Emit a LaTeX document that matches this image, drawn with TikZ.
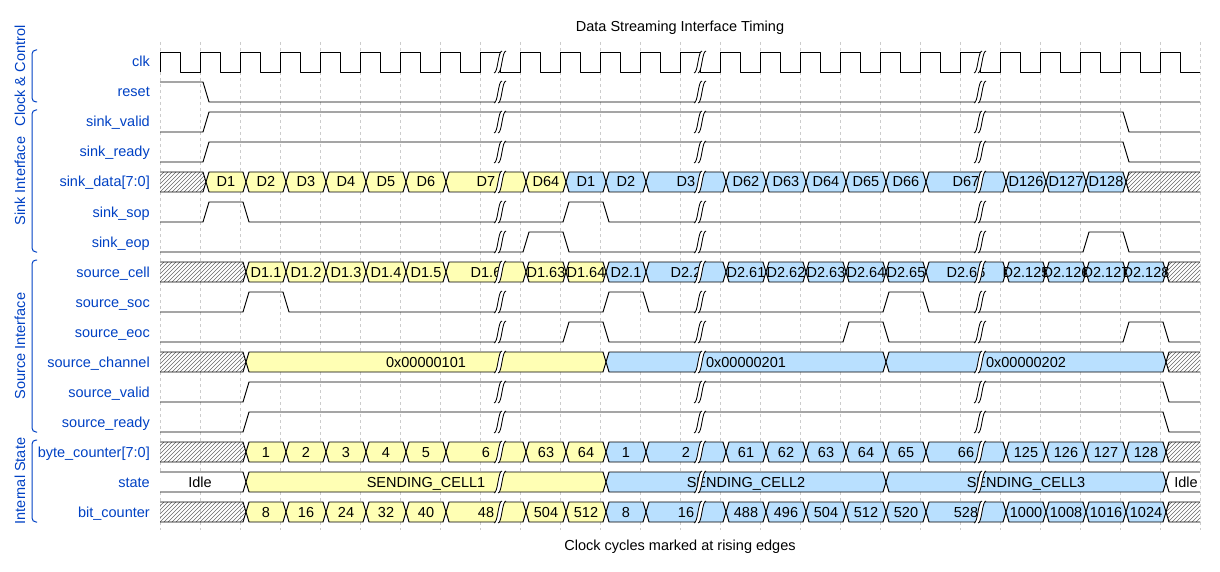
\documentclass[tikz,border=0pt]{standalone}
\usepackage{fontspec}
\setmainfont{Liberation Sans}
\usetikzlibrary{math}
\definecolor{laneblue}{RGB}{0,65,196}
\definecolor{cellyellow}{RGB}{255,255,180}
\definecolor{cellblue}{RGB}{185,224,255}
\definecolor{gridgray}{RGB}{204,204,204}

\tikzset{
 sigline/.style={line width=0.95pt, black, line join=round},
 hatchline/.style={line width=0.5pt, black!60},
 gapline/.style={line width=0.85pt, black},
 gridline/.style={line width=0.8pt, gridgray, dash pattern=on 3pt off 3pt},
 grpline/.style={line width=1pt, laneblue, rounded corners=4pt},
 wtext/.style={font=\fontsize{14.5}{17}\selectfont, inner sep=0pt},
 lane/.style={wtext, text=laneblue, anchor=base east},
 bustext/.style={wtext, anchor=base},
 grp/.style={wtext, text=laneblue, rotate=90, anchor=center},
}

%digital signal: row, start level, edges, end level
\newcommand{\sigwave}[4]{%
 \draw[sigline] (160,{#1+10-20*#2})
 \foreach \e [count=\i] in {#3}{ -- ({\e+3},{#1+10-20*mod(#2+\i-1,2)}) -- ({\e+9},{#1+10-20*mod(#2+\i,2)}) }
 -- (1200,{#1+10-20*#4});}

%bus value: row, from, to, colour, text
\newcommand{\busbox}[5]{%
 \filldraw[sigline, fill=#4] ({#2+6},#1) -- ({#2+9},{#1-10}) -- ({#3+3},{#1-10}) -- ({#3+6},#1) -- ({#3+3},{#1+10}) -- ({#2+9},{#1+10}) -- cycle;
 \node[bustext] (seg#1x#2) at ({(#2+#3)/2+6},{#1+5}) {#5};}
\newcommand{\busfirst}[4]{% row, to, colour, text
 \filldraw[sigline, fill=#3] (160,{#1-10}) -- ({#2+3},{#1-10}) -- ({#2+6},#1) -- ({#2+3},{#1+10}) -- (160,{#1+10});
 \node[bustext] (seg#1first) at ({(160+#2)/2},{#1+5}) {#4};}
\newcommand{\buslast}[4]{% row, from, colour, text
 \filldraw[sigline, fill=#3] (1200,{#1-10}) -- ({#2+9},{#1-10}) -- ({#2+6},#1) -- ({#2+9},{#1+10}) -- (1200,{#1+10});
 \node[bustext] (seg#1last) at ({(#2+1200)/2+6},{#1+5}) {#4};}

%unknown value, hatched
\newcommand{\hatchfirst}[2]{% row, to
 \begin{scope}
  \clip (160,{#1-10}) -- ({#2+3},{#1-10}) -- ({#2+6},#1) -- ({#2+3},{#1+10}) -- (160,{#1+10}) -- cycle;
  \foreach \k in {0,...,30} \draw[hatchline] ({140+4*\k},{#1+10}) -- ++(20,-20);
 \end{scope}
 \draw[sigline] (160,{#1-10}) -- ({#2+3},{#1-10}) -- ({#2+6},#1) -- ({#2+3},{#1+10}) -- (160,{#1+10});}
\newcommand{\hatchlast}[2]{% row, from
 \begin{scope}
  \clip (1200,{#1-10}) -- ({#2+9},{#1-10}) -- ({#2+6},#1) -- ({#2+9},{#1+10}) -- (1200,{#1+10}) -- cycle;
  \foreach \k in {0,...,30} \draw[hatchline] ({#2-20+4*\k},{#1+10}) -- ++(20,-20);
 \end{scope}
 \draw[sigline] (1200,{#1-10}) -- ({#2+9},{#1-10}) -- ({#2+6},#1) -- ({#2+9},{#1+10}) -- (1200,{#1+10});}

%time break
\newcommand{\gapmark}[2]{% x, row
 \begin{scope}[shift={({#1-5},{#2-9})}]
  \fill[white] (7,-2) .. controls (5,-2) and (4,3.5) .. (3,9) .. controls (2,14.5) and (1,20) .. (-1,20) -- (3,20) .. controls (5,20) and (6,14.5) .. (7,9) .. controls (8,3.5) and (9,-2) .. (11,-2) -- cycle;
  \draw[gapline] (7,-2) .. controls (5,-2) and (4,3.5) .. (3,9) .. controls (2,14.5) and (1,20) .. (-1,20);
  \draw[gapline] (11,-2) .. controls (9,-2) and (8,3.5) .. (7,9) .. controls (6,14.5) and (5,20) .. (3,20);
 \end{scope}}

\begin{document}
\begin{tikzpicture}[x=1pt,y=-1pt]
\useasboundingbox (0,0) rectangle (1220,572);
\tikzmath{
\xa=160;%first rising edge
\per=40;%clock period
}

%grid
\foreach \k in {0,...,26}
 \draw[gridline] ({\xa+\k*\per},42) -- ({\xa+\k*\per},530);

%clock & control
\draw[sigline] (\xa,72) \foreach \k in {0,...,25}{ -- ({\xa+\k*\per},52) -- ({\xa+\k*\per+\per/2},52) -- ({\xa+\k*\per+\per/2},72) -- ({\xa+(\k+1)*\per},72) };
\sigwave{92}{1}{200}{0}

%sink interface
\sigwave{122}{0}{200,1120}{0}
\sigwave{152}{0}{200,1120}{0}
\hatchfirst{182}{200}
\foreach \a/\b/\t in {200/240/D1, 240/280/D2, 280/320/D3, 320/360/D4, 360/400/D5, 400/440/D6, 440/520/D7, 520/560/D64}
 \busbox{182}{\a}{\b}{cellyellow}{\t};
\foreach \a/\b/\t in {560/600/D1, 600/640/D2, 640/720/D3, 720/760/D62, 760/800/D63, 800/840/D64, 840/880/D65, 880/920/D66, 920/1000/D67, 1000/1040/D126, 1040/1080/D127, 1080/1120/D128}
 \busbox{182}{\a}{\b}{cellblue}{\t};
\hatchlast{182}{1120}
\sigwave{212}{0}{200,240,560,600}{0}
\sigwave{242}{0}{520,560,1080,1120}{0}

%source interface
\hatchfirst{272}{240}
\foreach \a/\b/\t in {240/280/D1.1, 280/320/D1.2, 320/360/D1.3, 360/400/D1.4, 400/440/D1.5, 440/520/D1.6, 520/560/D1.63, 560/600/D1.64}
 \busbox{272}{\a}{\b}{cellyellow}{\t};
\foreach \a/\b/\t in {600/640/D2.1, 640/720/D2.2, 720/760/D2.61, 760/800/D2.62, 800/840/D2.63, 840/880/D2.64, 880/920/D2.65, 920/1000/D2.66, 1000/1040/D2.125, 1040/1080/D2.126, 1080/1120/D2.127, 1120/1160/D2.128}
 \busbox{272}{\a}{\b}{cellblue}{\t};
\hatchlast{272}{1160}
\sigwave{302}{0}{240,280,600,640,880,920}{0}
\sigwave{332}{0}{560,600,840,880,1120,1160}{0}
\hatchfirst{362}{240}
\busbox{362}{240}{600}{cellyellow}{0x00000101}
\busbox{362}{600}{880}{cellblue}{0x00000201}
\busbox{362}{880}{1160}{cellblue}{0x00000202}
\hatchlast{362}{1160}
\sigwave{392}{0}{240,1160}{0}
\sigwave{422}{0}{240,1160}{0}

%internal state
\hatchfirst{452}{240}
\foreach \a/\b/\t in {240/280/1, 280/320/2, 320/360/3, 360/400/4, 400/440/5, 440/520/6, 520/560/63, 560/600/64}
 \busbox{452}{\a}{\b}{cellyellow}{\t};
\foreach \a/\b/\t in {600/640/1, 640/720/2, 720/760/61, 760/800/62, 800/840/63, 840/880/64, 880/920/65, 920/1000/66, 1000/1040/125, 1040/1080/126, 1080/1120/127, 1120/1160/128}
 \busbox{452}{\a}{\b}{cellblue}{\t};
\hatchlast{452}{1160}
\busfirst{482}{240}{white}{Idle}
\busbox{482}{240}{600}{cellyellow}{SENDING\_CELL1}
\busbox{482}{600}{880}{cellblue}{SENDING\_CELL2}
\busbox{482}{880}{1160}{cellblue}{SENDING\_CELL3}
\buslast{482}{1160}{white}{Idle}
\hatchfirst{512}{240}
\foreach \a/\b/\t in {240/280/8, 280/320/16, 320/360/24, 360/400/32, 400/440/40, 440/520/48, 520/560/504, 560/600/512}
 \busbox{512}{\a}{\b}{cellyellow}{\t};
\foreach \a/\b/\t in {600/640/8, 640/720/16, 720/760/488, 760/800/496, 800/840/504, 840/880/512, 880/920/520, 920/1000/528, 1000/1040/1000, 1040/1080/1008, 1080/1120/1016, 1120/1160/1024}
 \busbox{512}{\a}{\b}{cellblue}{\t};
\hatchlast{512}{1160}

%breaks
\foreach \r in {62,92,...,512}
 \foreach \g in {500,700,980}
  \gapmark{\g}{\r};

%lane names
\foreach \r/\s in {62/clk, 92/reset, 122/sink\_valid, 152/sink\_ready, 182/sink\_data[7:0], 212/sink\_sop, 242/sink\_eop, 272/source\_cell, 302/source\_soc, 332/source\_eoc, 362/source\_channel, 392/source\_valid, 422/source\_ready, 452/byte\_counter[7:0], 482/state, 512/bit\_counter}
 \node[lane] (lane\r) at (150,{\r+5}) {\s};

%groups
\draw[grpline] (37,50) -- (32,50) -- (32,102) -- (37,102);
\node[grp] (gclock) at (20,76) {Clock \& Control};
\draw[grpline] (37,110) -- (32,110) -- (32,252) -- (37,252);
\node[grp] (gsink) at (20,181) {Sink Interface};
\draw[grpline] (37,260) -- (32,260) -- (32,432) -- (37,432);
\node[grp] (gsource) at (20,346) {Source Interface};
\draw[grpline] (37,440) -- (32,440) -- (32,522) -- (37,522);
\node[grp] (gstate) at (20,481) {Internal State};

\node[wtext] (title) at (680,28) {Data Streaming Interface Timing};
\node[wtext] (foot) at (680,547) {Clock cycles marked at rising edges};
\end{tikzpicture}
\end{document}
